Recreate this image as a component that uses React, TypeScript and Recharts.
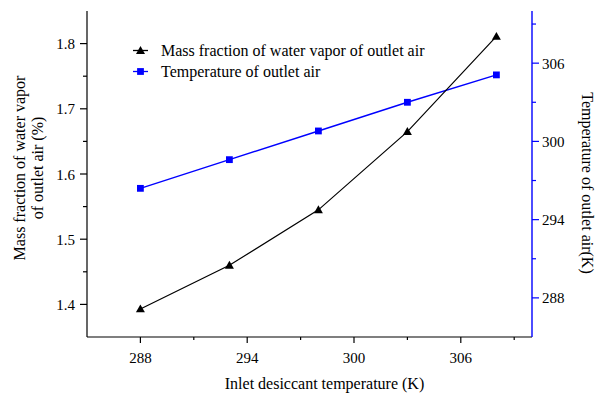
import React from 'react';
import { LineChart, Line, XAxis, YAxis, Legend } from 'recharts';

// Inlet desiccant temperature (K)
const inletTemps = [288, 293, 298, 303, 308];
// Mass fraction of water vapor of outlet air (%)
const massFraction = [1.393, 1.46, 1.545, 1.665, 1.811];
// Temperature of outlet air (K)
const outletTemps = [296.4, 298.6, 300.8, 303.0, 305.1];

const xTicks = [288, 291, 294, 297, 300, 303, 306, 309];
const xMajorTicks = [288, 294, 300, 306];
const leftTicks = [1.4, 1.45, 1.5, 1.55, 1.6, 1.65, 1.7, 1.75, 1.8];
const leftMajorTicks = [1.4, 1.5, 1.6, 1.7, 1.8];
const rightTicks = [288, 291, 294, 297, 300, 303, 306, 309];
const rightMajorTicks = [288, 294, 300, 306];

const data = inletTemps.map((x, i) => ({ x, mass: massFraction[i], temp: outletTemps[i] }));

const FONT = '"Liberation Serif"';
const BLUE = '#0000ff';
const BLACK = '#000000';
const TICK_FONT = 15;
const TITLE_FONT = 16;

const isMajor = (list: number[], v: number) => list.some((m) => Math.abs(m - v) < 1e-6);

function BottomTick(props: any) {
  const { x, y, payload } = props;
  const major = isMajor(xMajorTicks, payload.value);
  return (
    <g>
      <line x1={x} x2={x} y1={y} y2={y + (major ? 6 : 3)} stroke={BLACK} strokeWidth={1.2} />
      {major && (
        <text x={x} y={y + 26} textAnchor="middle" fontSize={TICK_FONT} fontFamily={FONT} fill={BLACK}>
          {payload.value}
        </text>
      )}
    </g>
  );
}

function TopTick(props: any) {
  const { x, y, payload } = props;
  const major = isMajor(xMajorTicks, payload.value);
  return <line x1={x} x2={x} y1={y} y2={y + (major ? 5 : 3)} stroke={BLACK} strokeWidth={1.2} />;
}

function LeftTick(props: any) {
  const { x, y, payload } = props;
  const major = isMajor(leftMajorTicks, payload.value);
  return (
    <g>
      <line x1={x} x2={x - (major ? 7 : 4)} y1={y} y2={y} stroke={BLACK} strokeWidth={1.2} />
      {major && (
        <text x={x - 12} y={y + 5.5} textAnchor="end" fontSize={TICK_FONT} fontFamily={FONT} fill={BLACK}>
          {Number(payload.value).toFixed(1)}
        </text>
      )}
    </g>
  );
}

function RightTick(props: any) {
  const { x, y, payload } = props;
  const major = isMajor(rightMajorTicks, payload.value);
  return (
    <g>
      <line x1={x} x2={x + (major ? 7 : 4)} y1={y} y2={y} stroke={BLUE} strokeWidth={1.2} />
      {major && (
        <text x={x + 10} y={y + 5.5} textAnchor="start" fontSize={TICK_FONT} fontFamily={FONT} fill={BLACK}>
          {payload.value}
        </text>
      )}
    </g>
  );
}

function TriangleDot(props: any) {
  const { cx, cy, index } = props;
  if (cx == null || cy == null) return <g key={`t-${index}`} />;
  const s = 4.5;
  return (
    <path
      key={`t-${index}`}
      d={`M${cx},${cy - s} L${cx + s},${cy + s * 0.75} L${cx - s},${cy + s * 0.75} Z`}
      fill={BLACK}
    />
  );
}

function SquareDot(props: any) {
  const { cx, cy, index } = props;
  if (cx == null || cy == null) return <g key={`s-${index}`} />;
  const s = 3.4;
  return <rect key={`s-${index}`} x={cx - s} y={cy - s} width={s * 2} height={s * 2} fill={BLUE} />;
}

function BottomTitle(props: any) {
  const vb = props.viewBox || { x: 87, y: 337, width: 445, height: 56 };
  return (
    <text
      x={vb.x + vb.width / 2 + 15}
      y={vb.y + 52}
      textAnchor="middle"
      fontSize={TITLE_FONT}
      fontFamily={FONT}
      fill={BLACK}
    >
      Inlet desiccant temperature (K)
    </text>
  );
}

function LeftTitle(props: any) {
  const vb = props.viewBox || { x: 0, y: 11, width: 87, height: 326 };
  const cy = vb.y + vb.height / 2 - 6;
  return (
    <g>
      <text
        x={vb.x + 25}
        y={cy}
        textAnchor="middle"
        fontSize={TITLE_FONT}
        fontFamily={FONT}
        fill={BLACK}
        transform={`rotate(-90 ${vb.x + 25} ${cy})`}
      >
        Mass fraction of water vapor
      </text>
      <text
        x={vb.x + 43}
        y={cy}
        textAnchor="middle"
        fontSize={TITLE_FONT}
        fontFamily={FONT}
        fill={BLACK}
        transform={`rotate(-90 ${vb.x + 43} ${cy})`}
      >
        of outlet air (%)
      </text>
    </g>
  );
}

function RightTitle(props: any) {
  const vb = props.viewBox || { x: 532, y: 11, width: 63, height: 326 };
  const cx = vb.x + 50;
  const cy = vb.y + vb.height / 2 + 9;
  return (
    <text
      x={cx}
      y={cy}
      textAnchor="middle"
      fontSize={TITLE_FONT}
      fontFamily={FONT}
      fill={BLACK}
      transform={`rotate(90 ${cx} ${cy})`}
    >
      Temperature of outlet air(K)
    </text>
  );
}

const legendRows = [
  { key: 'mass', label: 'Mass fraction of water vapor of outlet air', color: BLACK, shape: 'triangle' },
  { key: 'temp', label: 'Temperature of outlet air', color: BLUE, shape: 'square' },
];

function LegendBox() {
  return (
    <div style={{ fontFamily: FONT, fontSize: TITLE_FONT, color: BLACK, lineHeight: '21px' }}>
      {legendRows.map((r) => (
        <div key={r.key} style={{ display: 'flex', alignItems: 'center', height: 21 }}>
          <svg width={28} height={21} style={{ display: 'block' }}>
            <line x1={3} x2={18} y1={10.5} y2={10.5} stroke={r.color} strokeWidth={1.3} />
            {r.shape === 'triangle' ? (
              <path d="M10.5,6 L15,13.9 L6,13.9 Z" fill={r.color} />
            ) : (
              <rect x={7.1} y={7.1} width={6.8} height={6.8} fill={r.color} />
            )}
          </svg>
          <span style={{ whiteSpace: 'nowrap', marginLeft: 3, fontFamily: FONT }}>{r.label}</span>
        </div>
      ))}
    </div>
  );
}

export default function App() {
  return (
    <div
      style={{
        position: 'absolute',
        left: 0,
        top: 0,
        width: 595,
        height: 393,
        background: '#fff',
        fontFamily: FONT,
      }}
    >
      <LineChart width={595} height={393} data={data} margin={{ top: 11, right: 0, bottom: 0, left: 0 }}>
        <XAxis
          xAxisId="bottom"
          dataKey="x"
          type="number"
          domain={[285, 310]}
          allowDataOverflow
          ticks={xTicks}
          interval={0}
          tickSize={0}
          tickMargin={0}
          height={56}
          tickLine={false}
          axisLine={{ stroke: BLACK, strokeWidth: 1.2 }}
          tick={BottomTick}
          label={{ content: BottomTitle }}
        />
        <XAxis
          xAxisId="top"
          orientation="top"
          dataKey="x"
          type="number"
          domain={[285, 310]}
          allowDataOverflow
          ticks={xTicks}
          interval={0}
          tickSize={0}
          tickMargin={0}
          height={0}
          tickLine={false}
          axisLine={{ stroke: BLACK, strokeWidth: 1.2 }}
          tick={TopTick}
        />
        <YAxis
          yAxisId="left"
          type="number"
          domain={[1.35, 1.85]}
          allowDataOverflow
          ticks={leftTicks}
          interval={0}
          tickSize={0}
          tickMargin={0}
          width={87}
          tickLine={false}
          axisLine={{ stroke: BLACK, strokeWidth: 1.2 }}
          tick={LeftTick}
          label={{ content: LeftTitle }}
        />
        <YAxis
          yAxisId="right"
          orientation="right"
          type="number"
          domain={[285, 310]}
          allowDataOverflow
          ticks={rightTicks}
          interval={0}
          tickSize={0}
          tickMargin={0}
          width={63}
          tickLine={false}
          axisLine={{ stroke: BLUE, strokeWidth: 1.4 }}
          tick={RightTick}
          label={{ content: RightTitle }}
        />
        <Legend
          layout="vertical"
          align="center"
          verticalAlign="middle"
          content={LegendBox}
          wrapperStyle={{ left: 130, top: 40, width: 330, height: 42 }}
        />
        <Line
          xAxisId="top"
          yAxisId="right"
          dataKey="temp"
          stroke={BLUE}
          strokeWidth={1.4}
          dot={SquareDot}
          activeDot={false}
          isAnimationActive={false}
        />
        <Line
          xAxisId="bottom"
          yAxisId="left"
          dataKey="mass"
          stroke={BLACK}
          strokeWidth={1.2}
          dot={TriangleDot}
          activeDot={false}
          isAnimationActive={false}
        />
      </LineChart>
    </div>
  );
}
